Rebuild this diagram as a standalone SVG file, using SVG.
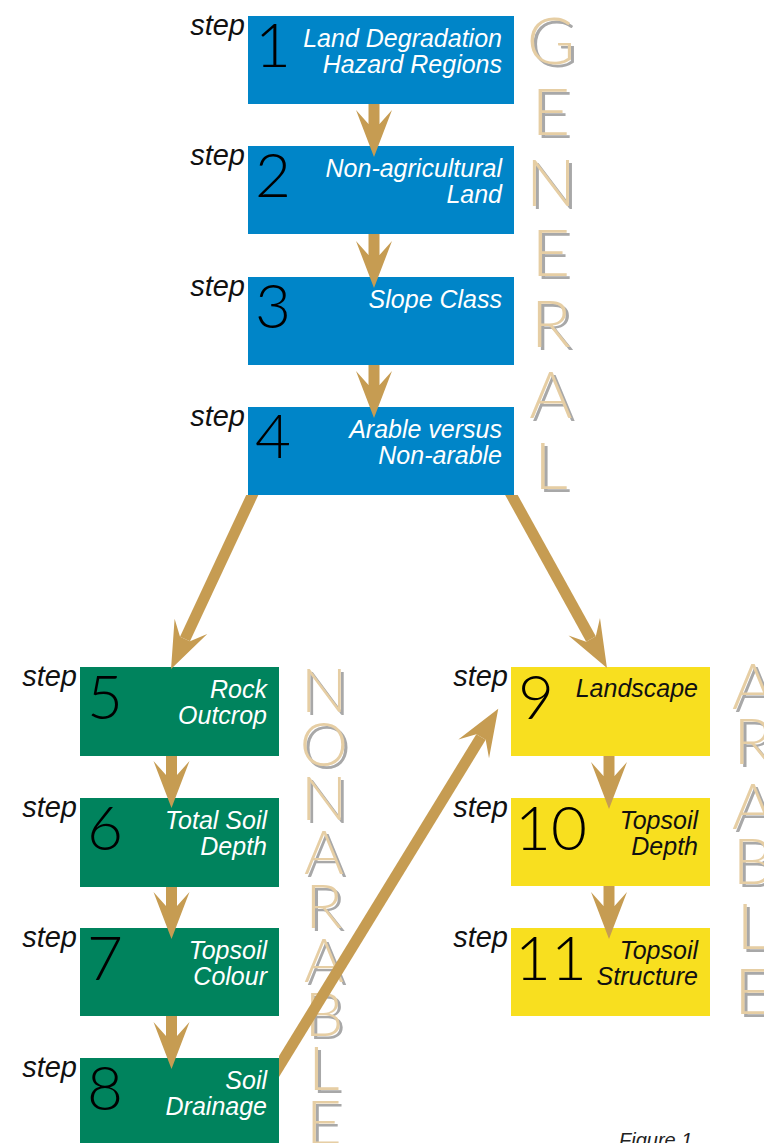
<svg xmlns="http://www.w3.org/2000/svg" xmlns:xlink="http://www.w3.org/1999/xlink" width="764" height="1143" viewBox="0 0 764 1143">
<style>
.blue{fill:#0085C8}
.green{fill:#00835D}
.yellow{fill:#F8DF1F}
.step{font-family:"Liberation Sans",Arial,sans-serif;font-style:italic;font-size:29px;fill:#111;text-anchor:end}
.num{font-family:Lato,"Liberation Sans",sans-serif;font-weight:300;font-size:62px;fill:#000}
.lbl{font-family:"Liberation Sans",Arial,sans-serif;font-style:italic;font-size:25px;fill:#fff;text-anchor:end}
.lbl.dark{fill:#111}
.big{font-family:Lato,"Liberation Sans",sans-serif;font-weight:300;text-anchor:middle}
.tan{fill:#E6CEA4}
.shadow{fill:#A8A8A8}
.conn{stroke:#C69C52;stroke-width:11;fill:none;marker-end:url(#head)}
.fig{font-family:"Liberation Sans",Arial,sans-serif;font-style:italic;font-size:20px;fill:#222}
</style>
<defs>
<marker id="head" markerUnits="userSpaceOnUse" markerWidth="80" markerHeight="80" refX="0" refY="0" orient="auto" overflow="visible">
<path d="M0,-5.5 L-14,-18 L33,0 L-14,18 L0,5.5 Z" fill="#C69C52"/>
</marker>
<clipPath id="below4"><rect x="0" y="495" width="764" height="648"/></clipPath>
<clipPath id="right8"><rect x="279" y="0" width="485" height="1143"/></clipPath>
<g id="general" class="big" font-size="66">
<text x="551" y="64">G</text><text x="551" y="135">E</text><text x="551" y="206">N</text><text x="551" y="276">E</text><text x="551" y="347">R</text><text x="551" y="418">A</text><text x="551" y="489">L</text>
</g>
<g id="nonarable" class="big" font-size="61">
<text x="324" y="712">N</text><text x="324" y="766">O</text><text x="324" y="820">N</text><text x="324" y="874">A</text><text x="324" y="928">R</text><text x="324" y="982">A</text><text x="324" y="1036">B</text><text x="324" y="1090">L</text><text x="324" y="1144">E</text>
</g>
<g id="arable" class="big" font-size="64">
<text x="753" y="709">A</text><text x="753" y="764">R</text><text x="753" y="829">A</text><text x="753" y="884">B</text><text x="753" y="949">L</text><text x="753" y="1014">E</text>
</g>
</defs>
<rect width="764" height="1143" fill="#fff"/>

<g id="labels-big">
<use xlink:href="#general" class="shadow" x="3" y="3"/>
<use xlink:href="#general" class="tan"/>
<use xlink:href="#nonarable" class="shadow" x="3" y="3"/>
<use xlink:href="#nonarable" class="tan"/>
<use xlink:href="#arable" class="shadow" x="3" y="3"/>
<use xlink:href="#arable" class="tan"/>
</g>

<g id="step1"><rect class="blue" x="248" y="16" width="266" height="88"/><text class="step" x="245" y="35">step</text><text class="num" x="255" y="67">1</text><text class="lbl" x="502" y="47">Land Degradation</text><text class="lbl" x="502" y="73">Hazard Regions</text></g>
<g id="step2"><rect class="blue" x="248" y="146" width="266" height="88"/><text class="step" x="245" y="165">step</text><text class="num" x="255" y="197">2</text><text class="lbl" x="502" y="177">Non-agricultural</text><text class="lbl" x="502" y="203">Land</text></g>
<g id="step3"><rect class="blue" x="248" y="277" width="266" height="88"/><text class="step" x="245" y="296">step</text><text class="num" x="255" y="328">3</text><text class="lbl" x="502" y="308">Slope Class</text></g>
<g id="step4"><rect class="blue" x="248" y="407" width="266" height="88"/><text class="step" x="245" y="426">step</text><text class="num" x="255" y="458">4</text><text class="lbl" x="502" y="438">Arable versus</text><text class="lbl" x="502" y="464">Non-arable</text></g>

<g id="step5"><rect class="green" x="80" y="667" width="199" height="89"/><text class="step" x="77" y="686">step</text><text class="num" x="87" y="719">5</text><text class="lbl" x="267" y="698">Rock</text><text class="lbl" x="267" y="724">Outcrop</text></g>
<g id="step6"><rect class="green" x="80" y="798" width="199" height="89"/><text class="step" x="77" y="817">step</text><text class="num" x="87" y="850">6</text><text class="lbl" x="267" y="829">Total Soil</text><text class="lbl" x="267" y="855">Depth</text></g>
<g id="step7"><rect class="green" x="80" y="928" width="199" height="88"/><text class="step" x="77" y="947">step</text><text class="num" x="87" y="980">7</text><text class="lbl" x="267" y="959">Topsoil</text><text class="lbl" x="267" y="985">Colour</text></g>
<g id="step8"><rect class="green" x="80" y="1058" width="199" height="88"/><text class="step" x="77" y="1077">step</text><text class="num" x="87" y="1110">8</text><text class="lbl" x="267" y="1089">Soil</text><text class="lbl" x="267" y="1115">Drainage</text></g>

<g id="step9"><rect class="yellow" x="511" y="667" width="199" height="89"/><text class="step" x="508" y="686">step</text><text class="num" x="518" y="719">9</text><text class="lbl dark" x="698" y="697">Landscape</text></g>
<g id="step10"><rect class="yellow" x="511" y="798" width="199" height="88"/><text class="step" x="508" y="817">step</text><text class="num" x="515" y="850">10</text><text class="lbl dark" x="698" y="829">Topsoil</text><text class="lbl dark" x="698" y="855">Depth</text></g>
<g id="step11"><rect class="yellow" x="511" y="928" width="199" height="88"/><text class="step" x="508" y="947">step</text><text class="num" x="515" y="980">11</text><text class="lbl dark" x="698" y="959">Topsoil</text><text class="lbl dark" x="698" y="985">Structure</text></g>

<g id="connectors">
<line class="conn" x1="374" y1="104" x2="374" y2="124"/>
<line class="conn" x1="374" y1="234" x2="374" y2="255"/>
<line class="conn" x1="374" y1="365" x2="374" y2="385"/>
<line class="conn" clip-path="url(#below4)" x1="256" y1="487" x2="185" y2="639"/>
<line class="conn" clip-path="url(#below4)" x1="507" y1="487" x2="591" y2="639"/>
<line class="conn" x1="171.5" y1="756" x2="171.5" y2="775"/>
<line class="conn" x1="171.5" y1="887" x2="171.5" y2="906"/>
<line class="conn" x1="171.5" y1="1016" x2="171.5" y2="1036"/>
<line class="conn" clip-path="url(#right8)" x1="272" y1="1078" x2="481" y2="737"/>
<line class="conn" x1="609" y1="756" x2="609" y2="776"/>
<line class="conn" x1="609" y1="886" x2="609" y2="906"/>
</g>

<text class="fig" x="619" y="1147">Figure 1</text>
</svg>
